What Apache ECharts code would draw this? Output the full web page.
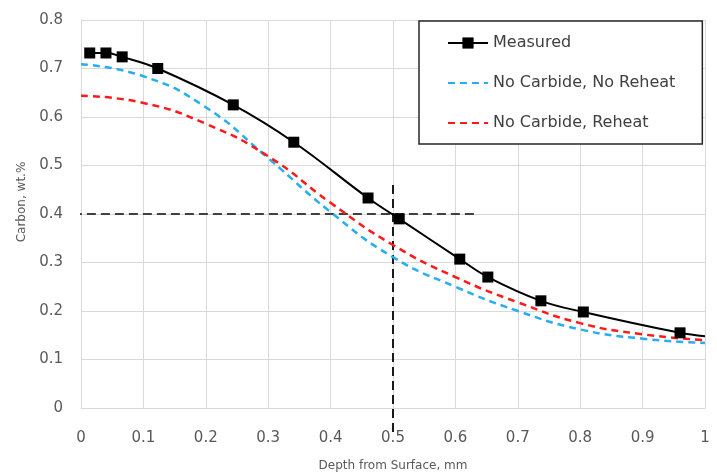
<!DOCTYPE html>
<html>
<head>
<meta charset="utf-8">
<script src="https://cdn.jsdelivr.net/npm/echarts@6/dist/echarts.min.js"></script>
<style>html,body{margin:0;padding:0;background:#fff}#c{width:717px;height:473px}</style>
</head>
<body>
<div id="c"></div>
<script>
const xTicks = [0, 0.1, 0.2, 0.3, 0.4, 0.5, 0.6, 0.7, 0.8, 0.9, 1];
const yTicks = [0, 0.1, 0.2, 0.3, 0.4, 0.5, 0.6, 0.7, 0.8];
const measuredX = [0.014, 0.040, 0.066, 0.123, 0.244, 0.341, 0.460, 0.510, 0.607, 0.652, 0.737, 0.805, 0.960, 1.0];
const measuredY = [0.732, 0.732, 0.724, 0.700, 0.625, 0.548, 0.433, 0.390, 0.307, 0.270, 0.221, 0.198, 0.155, 0.148];
const measuredMarked = [true, true, true, true, true, true, true, true, true, true, true, true, true, false];
const modelX = [0, 0.1, 0.2, 0.3, 0.4, 0.5, 0.6, 0.7, 0.8, 0.9, 1.0];
const noReheatY = [0.709, 0.684, 0.620, 0.515, 0.404, 0.311, 0.250, 0.200, 0.162, 0.143, 0.134];
const reheatY = [0.644, 0.629, 0.586, 0.519, 0.423, 0.336, 0.270, 0.218, 0.175, 0.152, 0.140];
const refH = [[-0.013, 0.4], [0.636, 0.4]];
const refV = [[0.5, 0.46], [0.5, -0.05]];

const FONT = 'DejaVu Sans';
const chart = echarts.init(document.getElementById('c'));
const zip = (xs, ys) => xs.map((x, i) => [x, ys[i]]);
chart.setOption({
  animation: false,
  backgroundColor: '#fff',
  grid: { left: 81, right: 12, top: 20, bottom: 65, containLabel: false, outerBoundsMode: 'none' },
  xAxis: {
    type: 'value', min: xTicks[0], max: xTicks[xTicks.length - 1], interval: 0.1,
    name: 'Depth from Surface, mm', nameLocation: 'middle', nameGap: 52,
    nameTextStyle: { color: '#595959', fontSize: 12, fontFamily: FONT },
    axisLine: { show: true, lineStyle: { color: '#d9d9d9', width: 1 } },
    axisTick: { show: false },
    axisLabel: { color: '#595959', fontSize: 15, fontFamily: FONT, margin: 23,
      formatter: v => String(Math.round(v * 10) / 10) },
    splitLine: { show: true, lineStyle: { color: '#d9d9d9', width: 1 } }
  },
  yAxis: {
    type: 'value', min: yTicks[0], max: yTicks[yTicks.length - 1], interval: 0.1,
    name: 'Carbon, wt.%', nameLocation: 'middle', nameGap: 52,
    nameTextStyle: { color: '#595959', fontSize: 12, fontFamily: FONT, padding: [0, 0, 0, 24] },
    axisLine: { show: true, lineStyle: { color: '#d9d9d9', width: 1 } },
    axisTick: { show: false },
    axisLabel: { color: '#595959', fontSize: 15, fontFamily: FONT, margin: 18,
      formatter: v => String(Math.round(v * 10) / 10) },
    splitLine: { show: true, lineStyle: { color: '#d9d9d9', width: 1 } }
  },
  legend: {
    orient: 'vertical', left: 419, top: 21,
    padding: [14, 27, 13, 28], itemGap: 24, itemWidth: 40, itemHeight: 14,
    backgroundColor: '#fff', borderColor: '#262626', borderWidth: 1.5,
    textStyle: { color: '#404040', fontSize: 16, fontFamily: FONT },
    data: [
      { name: 'Measured' },
      { name: 'No Carbide, No Reheat', itemStyle: { opacity: 0 } },
      { name: 'No Carbide, Reheat', itemStyle: { opacity: 0 } }
    ]
  },
  series: [
    { name: 'hline', type: 'line', data: refH, symbol: 'none', clip: false, silent: true,
      lineStyle: { color: '#404040', width: 2, type: [9, 5] }, z: 1 },
    { name: 'vline', type: 'line', data: refV, symbol: 'none', clip: false, silent: true,
      lineStyle: { color: '#1a1a1a', width: 2, type: [9, 5] }, z: 1 },
    { name: 'No Carbide, No Reheat', type: 'line', data: zip(modelX, noReheatY), smooth: 0.5,
      symbol: 'none', lineStyle: { color: '#27aef0', width: 2.5, type: [7, 5] }, itemStyle: { color: '#27aef0' }, z: 2 },
    { name: 'No Carbide, Reheat', type: 'line', data: zip(modelX, reheatY), smooth: 0.5,
      symbol: 'none', lineStyle: { color: '#ff1a1a', width: 2.5, type: [7, 5] }, itemStyle: { color: '#ff1a1a' }, z: 2 },
    { name: 'Measured', type: 'line', smooth: 0.4,
      data: measuredX.map((x, i) => ({ value: [x, measuredY[i]], symbol: measuredMarked[i] ? 'rect' : 'none' })),
      symbol: 'rect', symbolSize: 11,
      lineStyle: { color: '#000', width: 2 }, itemStyle: { color: '#000' }, z: 3 }
  ]
});
</script>
</body>
</html>
